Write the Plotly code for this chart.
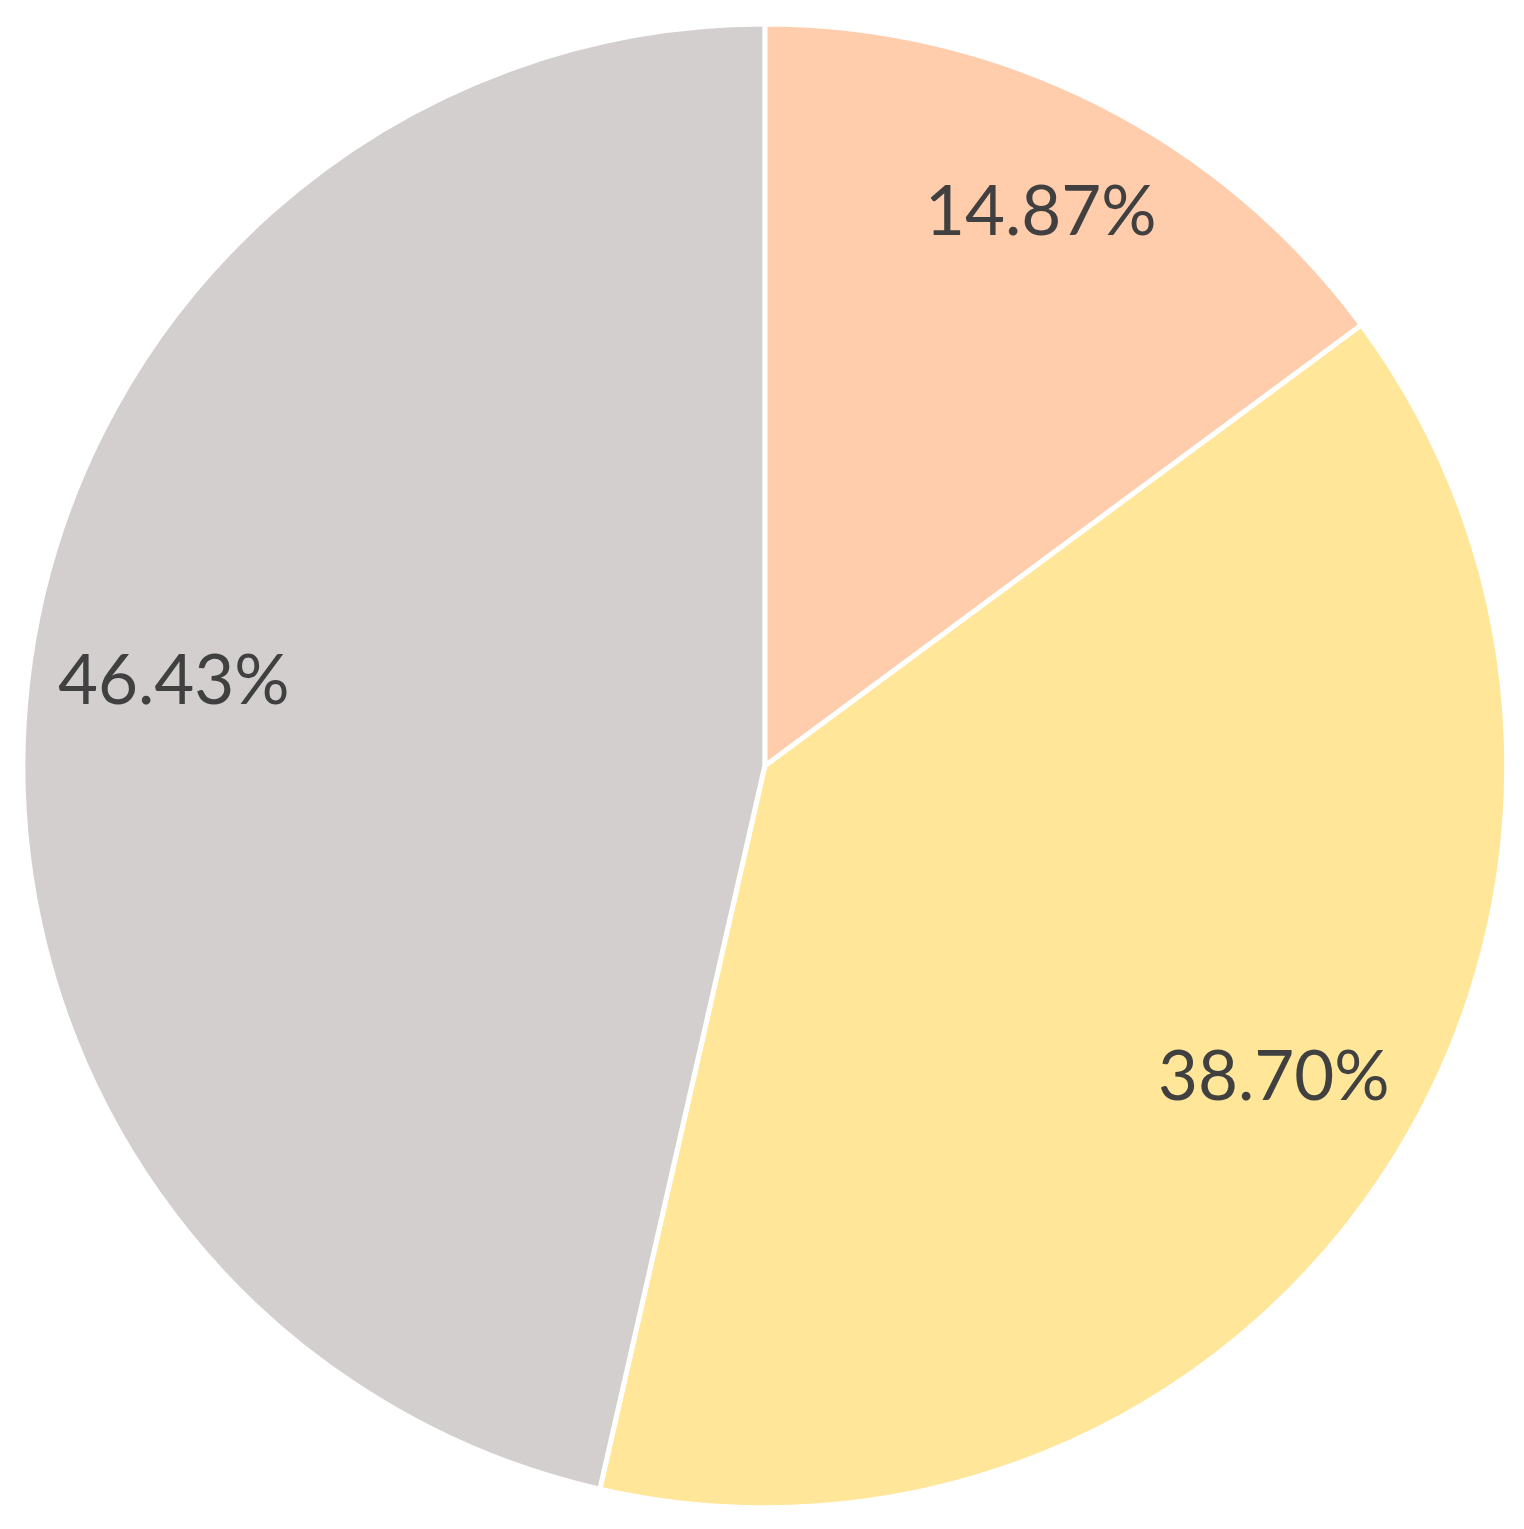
import math
import plotly.graph_objects as go

labels = ["A", "B", "C"]
values = [14.87, 38.70, 46.43]
text_labels = ["14.87%", "38.70%", "46.43%"]
colors = ["#FFCCAC", "#FFE699", "#D3CFCF"]

W, H = 1524, 1529
dom_x = [0.0098, 0.9834]
dom_y = [0.019, 0.9896]

fig = go.Figure(go.Pie(
    labels=labels,
    values=values,
    textinfo="none",
    sort=False,
    direction="clockwise",
    rotation=0,
    marker=dict(colors=colors, line=dict(color="white", width=5)),
    domain=dict(x=dom_x, y=dom_y),
    hoverinfo="skip",
))

# place labels at ~81% of the radius along each slice's mid-angle
cx = (dom_x[0] + dom_x[1]) / 2 * W - 7
cy = (dom_y[0] + dom_y[1]) / 2 * H - 7
r = min((dom_x[1] - dom_x[0]) * W, (dom_y[1] - dom_y[0]) * H) / 2
total = sum(values)
cum = 0.0
for v, t in zip(values, text_labels):
    mid = (cum + v / 2) / total * 2 * math.pi
    cum += v
    px = cx + 0.81 * r * math.sin(mid)
    py = cy + 0.81 * r * math.cos(mid)
    fig.add_annotation(
        x=px / W, y=py / H, xref="paper", yref="paper",
        text=t, showarrow=False,
        font=dict(family="Lato", size=69, color="#404040"),
        xanchor="center", yanchor="middle",
        xshift=13, yshift=28,
    )

fig.update_layout(
    width=W, height=H,
    margin=dict(l=0, r=0, t=0, b=0),
    showlegend=False,
    paper_bgcolor="white",
)
fig.write_html("out.html")
